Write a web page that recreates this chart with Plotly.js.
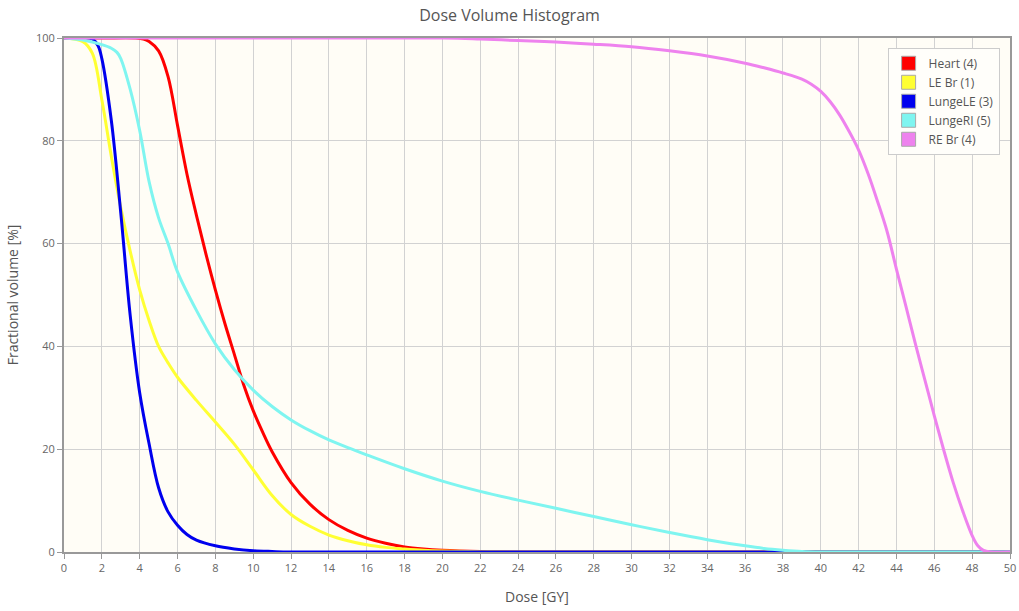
<!DOCTYPE html>
<html>
<head>
<meta charset="utf-8">
<script src="https://cdn.plot.ly/plotly-3.0.1.min.js"></script>
<style>html,body{margin:0;padding:0;background:#fff;}#chart{width:1019px;height:611px;}</style>
</head>
<body>
<div id="chart"></div>
<script>
var seriesNames = ["Heart (4)", "LE Br (1)", "LungeLE (3)", "LungeRI (5)", "RE Br (4)"];
var seriesColors = ["#ff0000", "#ffff33", "#0000ee", "#7ff5f0", "#ee82ee"];

var heartDose = [0, 2, 3.8, 4.2, 4.5, 5, 5.5, 6, 6.5, 7, 7.5, 8, 8.5, 9, 9.5, 10, 10.5, 11, 12, 13, 14, 15, 16, 17, 18, 19, 20, 22, 24, 50];
var heartVol  = [100, 100, 100, 99.8, 99.3, 97.5, 92.5, 83, 73.5, 65.5, 58, 51, 44.5, 38.5, 32.5, 27.5, 23.3, 19.5, 13.5, 9.3, 6.3, 4.2, 2.7, 1.7, 1.0, 0.6, 0.35, 0.1, 0, 0];

var leDose = [0, 1, 1.5, 2, 2.5, 3, 3.5, 4, 4.5, 5, 5.5, 6, 7, 8, 9, 10, 11, 12, 13, 14, 15, 16, 17, 18, 19, 20, 22, 24, 50];
var leVol  = [100, 99.3, 97, 88, 77, 67, 58.5, 51, 45, 40, 36.8, 34, 29.5, 25.3, 21, 16, 11, 7.3, 5, 3.3, 2.2, 1.4, 0.9, 0.6, 0.35, 0.2, 0.05, 0, 0];

var lungLeDose = [0, 1, 1.5, 1.8, 2, 2.5, 3, 3.5, 4, 4.5, 5, 5.5, 6, 6.5, 7, 8, 9, 10, 11, 12, 50];
var lungLeVol  = [100, 100, 99.8, 98.5, 96, 84, 66, 46, 31, 21, 12.5, 7.8, 5.2, 3.4, 2.3, 1.2, 0.6, 0.25, 0.1, 0, 0];

var lungRiDose = [0, 1, 2, 2.5, 2.8, 3, 3.5, 4, 4.5, 5, 5.5, 6, 7, 8, 9, 10, 11, 12, 13, 14, 15, 16, 18, 20, 22, 24, 26, 28, 30, 32, 34, 36, 37, 38, 39, 40, 50];
var lungRiVol  = [100, 99.6, 98.7, 98, 97.2, 96, 90, 82, 72, 65, 60, 54.5, 47, 40.5, 35.5, 31.5, 28.3, 25.7, 23.6, 21.8, 20.3, 18.9, 16.2, 13.8, 11.8, 10.1, 8.5, 6.9, 5.3, 3.8, 2.4, 1.2, 0.7, 0.35, 0.1, 0, 0];

var reBrDose = [0, 20, 22, 24, 26, 28, 30, 32, 34, 36, 37, 38, 39, 39.5, 40, 40.5, 41, 41.5, 42, 42.5, 43, 43.5, 44, 44.5, 45, 45.5, 46, 46.5, 47, 47.5, 48, 48.3, 48.6, 49, 50];
var reBrVol  = [100, 100, 99.8, 99.5, 99.2, 98.8, 98.3, 97.5, 96.5, 95.1, 94.2, 93.2, 92, 91, 89.6, 87.6, 85, 81.8, 78.2, 73.6, 68.2, 62.4, 55, 47.8, 40.5, 33.5, 26.5, 19.8, 13.5, 8, 3.2, 1.2, 0.3, 0, 0];

var doseSets = [heartDose, leDose, lungLeDose, lungRiDose, reBrDose];
var volSets = [heartVol, leVol, lungLeVol, lungRiVol, reBrVol];

var xTicks = [];
for (var t = 0; t <= 50; t += 2) xTicks.push(t);

var traces = [];
for (var i = 0; i < seriesNames.length; i++) {
  traces.push({
    x: doseSets[i], y: volSets[i], type: 'scatter', mode: 'lines',
    name: seriesNames[i], showlegend: false,
    line: {color: seriesColors[i], width: 3, shape: 'spline', smoothing: 1},
    hoverinfo: 'x+y+name'
  });
}
for (var j = 0; j < seriesNames.length; j++) {
  traces.push({
    x: [null], y: [null], type: 'scatter', mode: 'markers',
    name: seriesNames[j], showlegend: true,
    marker: {symbol: 'square', size: 14, color: seriesColors[j], line: {color: '#aaaaaa', width: 1}}
  });
}

var layout = {
  width: 1019, height: 611,
  margin: {l: 64, r: 9, t: 38, b: 59, autoexpand: false},
  paper_bgcolor: '#ffffff',
  plot_bgcolor: '#fffdf6',
  font: {family: 'Open Sans, DejaVu Sans, sans-serif', color: '#666', size: 11},
  title: {text: 'Dose Volume Histogram', x: 0.5, xanchor: 'center', y: 0.974, yanchor: 'middle',
          font: {size: 16, color: '#555', family: 'Open Sans, DejaVu Sans, sans-serif'}},
  xaxis: {
    range: [0, 50], tickvals: xTicks, ticktext: xTicks.map(String),
    showgrid: true, gridcolor: '#d2d2d2', gridwidth: 1,
    showline: true, linecolor: '#999', linewidth: 2, mirror: true,
    ticks: 'outside', ticklen: 5, tickcolor: '#999',
    zeroline: false, tickfont: {size: 11, color: '#666'},
    title: {text: 'Dose [GY]', font: {size: 14, color: '#555'}, standoff: 18}
  },
  yaxis: {
    range: [0, 100], dtick: 20,
    showgrid: true, gridcolor: '#d2d2d2', gridwidth: 1,
    showline: true, linecolor: '#999', linewidth: 2, mirror: true,
    ticks: 'outside', ticklen: 5, tickcolor: '#999',
    zeroline: false, tickfont: {size: 11, color: '#666'},
    title: {text: 'Fractional volume [%]', font: {size: 14, color: '#555'}, standoff: 14}
  },
  legend: {
    x: 0.989, y: 0.981, xanchor: 'right', yanchor: 'top',
    bgcolor: '#fffefa', bordercolor: '#cccccc', borderwidth: 1,
    font: {size: 12, color: '#555'}, itemwidth: 30
  },
  showlegend: true
};

Plotly.newPlot('chart', traces, layout, {displayModeBar: false, staticPlot: true});
</script>
</body>
</html>
